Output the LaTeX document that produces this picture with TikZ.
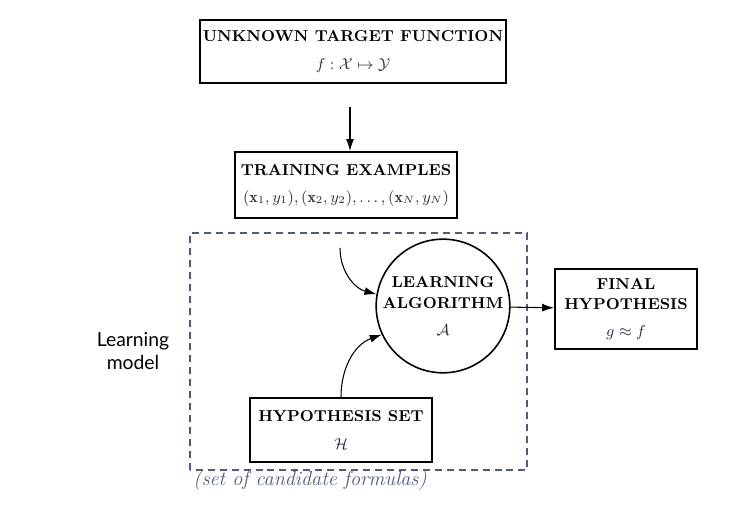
\documentclass[tikz,border=0pt]{standalone}
\usepackage{amsmath, amssymb}
\usepackage{fontspec}
\newfontfamily\modelfont{Lato}
\usepackage{tikz}
\usetikzlibrary{positioning}
\usetikzlibrary{arrows.meta}
\definecolor{slate}{RGB}{80,90,122}
\definecolor{inkgray}{RGB}{42,46,60}
\tikzset{blockbox/.style={draw, line width=1.1pt, align=center, inner sep=0pt, font=\fontsize{9}{11.4}\selectfont\bfseries}}
\tikzset{flow/.style={-{Latex[length=2.4mm,width=1.6mm]}, line width=0.6pt}}

\begin{document}
\begin{tikzpicture}
\useasboundingbox (0,0) rectangle (15.12,10.14);
\node[blockbox, minimum width=6.12cm, minimum height=1.26cm] (target) at (7.06,9.11) {UNKNOWN TARGET FUNCTION\\[4pt]\color{inkgray}$f:\mathcal{X}\mapsto\mathcal{Y}$};
\node[blockbox, minimum width=4.44cm, minimum height=1.32cm] (train) at (6.92,6.44) {TRAINING EXAMPLES\\[4pt]\color{inkgray}$(\mathbf{x}_1,y_1),(\mathbf{x}_2,y_2),\ldots,(\mathbf{x}_N,y_N)$};
\node[blockbox, circle, line width=0.9pt, minimum size=2.64cm] (alg) at (8.86,4.02) {LEARNING\\ALGORITHM\\[4pt]\color{inkgray}$\mathcal{A}$};
\node[blockbox, minimum width=3.64cm, minimum height=1.28cm] (hyp) at (6.82,1.54) {HYPOTHESIS SET\\[4pt]\color{inkgray}$\mathcal{H}$};
\node[blockbox, minimum width=2.84cm, minimum height=1.6cm] (final) at (12.52,3.96) {FINAL\\HYPOTHESIS\\[4pt]\color{inkgray}$g\approx f$};
% learning model frame
\draw[slate, line width=1.1pt, dash pattern=on 4pt off 2.8pt] (3.8,0.74) rectangle (10.54,5.48);
\node[font=\modelfont\fontsize{11}{13.1}\selectfont, align=center] (model) at (2.66,3.12) {Learning\\model};
\node[font=\fontsize{11.5}{13}\selectfont\itshape, text=slate] (candidates) at (6.2,0.54) {(set of candidate formulas)};
% connectors
\coordinate (feed) at (7.0,8.0);
\coordinate (sample) at (6.8,5.18);
\draw[flow] (feed) -- (feed |- train.north);
\draw[flow] (sample) to[out=-90,in=165] (alg.170);
\draw[flow] (hyp.north) to[out=90,in=200] (alg.205);
\draw[flow] (alg) -- (final);
\end{tikzpicture}
\end{document}
